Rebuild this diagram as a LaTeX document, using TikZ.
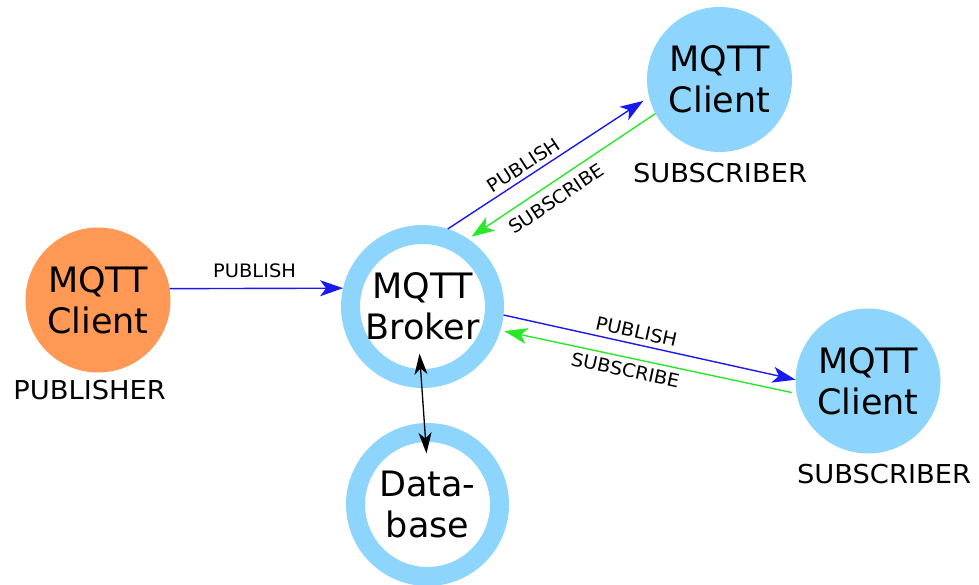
\documentclass[tikz,border=0pt]{standalone}
\usepackage{fontspec}
\setmainfont{DejaVu Sans}
\newfontfamily\capfont[FakeStretch=1.05]{DejaVu Sans}
\usetikzlibrary{arrows.meta,calc}

\definecolor{skyring}{RGB}{141,213,253}
\definecolor{pubfill}{RGB}{255,153,85}
\definecolor{publine}{RGB}{25,25,240}
\definecolor{subline}{RGB}{40,232,40}

\begin{document}
\begin{tikzpicture}[x=1pt,y=-1pt,
  nodetext/.style={align=center, font=\fontsize{35}{41}\selectfont, inner sep=0pt, outer sep=0pt},
  client/.style={nodetext, circle, minimum size=145pt},
  ring/.style={nodetext, circle, minimum size=144pt, draw=skyring, line width=19pt, outer sep=9.5pt},
  role/.style={font=\capfont\fontsize{26}{30}\selectfont, inner sep=0pt},
  msg/.style={font=\capfont\fontsize{18.5}{22}\selectfont, sloped, inner xsep=0pt, text=black},
  flowtip/.tip={Stealth[length=23pt,width=16pt,inset=6pt]},
  pubarrow/.style={draw=publine, line width=1.4pt, -flowtip},
  subarrow/.style={draw=subline, line width=1.4pt, -flowtip},
  linktip/.tip={Stealth[length=21pt,width=13pt,inset=6pt]},
  dbarrow/.style={draw=black, line width=1.3pt, linktip-linktip}
]
\useasboundingbox (0,0) rectangle (979,585);

% clients, broker and database
\node[client, fill=pubfill] (pub) at (98,300) {MQTT\\Client};
\node[ring] (broker) at (422.5,306.5) {MQTT\\Broker};
\node[ring] (db) at (427.5,504.5) {Data-\\base};
\node[client, fill=skyring] (sub1) at (719.5,79.5) {MQTT\\Client};
\node[client, fill=skyring] (sub2) at (868,381) {MQTT\\Client};

% roles
\node[role] (publabel) at (89.7,390) {PUBLISHER};
\node[role] (sub1label) at (720,173) {SUBSCRIBER};
\node[role] (sub2label) at (884,474.5) {SUBSCRIBER};

% message flows
\draw[pubarrow] (pub.9.5) -- node[msg, pos=0.49, above, inner ysep=10pt] {PUBLISH} (broker.167);
\draw[pubarrow, shorten >=7pt] (broker.72) -- node[msg, pos=0.41, above, inner ysep=4pt] {PUBLISH} (sub1.194);
\draw[subarrow, shorten >=4pt] (sub1.208) -- node[msg, pos=0.575, below, inner ysep=8pt] {SUBSCRIBE} (broker.56);
\draw[pubarrow] (broker.-6) -- node[msg, pos=0.446, above, inner ysep=5pt] {PUBLISH} (sub2.179);
\draw[subarrow, shorten <=5pt, shorten >=4pt] (sub2.190) -- node[msg, pos=0.569, below, inner ysep=5pt] {SUBSCRIBE} (broker.-17);

% broker <-> database link
\coordinate (linktop) at ($(broker.center)+(-3,47)$);
\coordinate (linkbot) at ($(db.center)+(-1,-51)$);
\draw[dbarrow] (linktop) -- (linkbot);
\end{tikzpicture}
\end{document}
